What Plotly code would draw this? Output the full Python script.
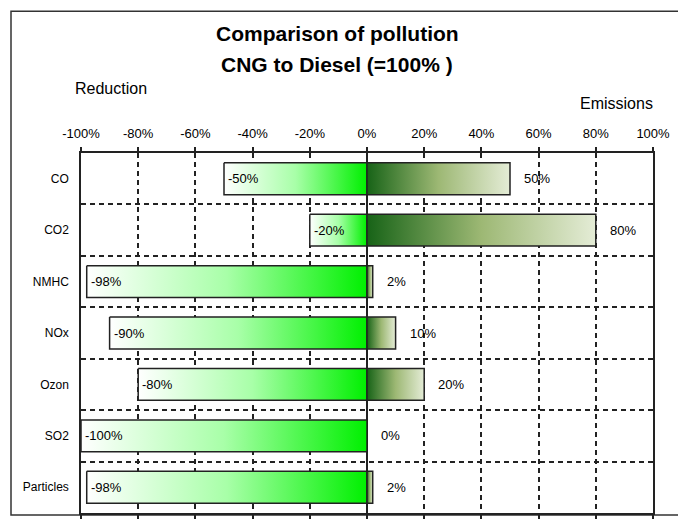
import plotly.graph_objects as go

categories = ["CO", "CO2", "NMHC", "NOx", "Ozon", "SO2", "Particles"]
reduction = [-50, -20, -98, -90, -80, -100, -98]
emissions = [50, 80, 2, 10, 20, 0, 2]
tick_values = [-100, -80, -60, -40, -20, 0, 20, 40, 60, 80, 100]
tick_labels = ["-100%", "-80%", "-60%", "-40%", "-20%", "0%", "20%", "40%", "60%", "80%", "100%"]

W, H = 678, 522
L, R, T, B = 81, 25, 153, 3
pw, ph = W - L - R, H - T - B

def px(x):
    return (x - L) / pw

def py(y):
    return (H - B - y) / ph

half = 0.31
neg_scale = [[0, "#ffffff"], [0.5, "#a8ffa8"], [1, "#00f000"]]
pos_scale = [[0, "#176317"], [0.5, "#9db874"], [1, "#e4ecd6"]]
FONT = "Liberation Sans, Arial, sans-serif"

fig = go.Figure()

for i, (cat, r, e) in enumerate(zip(categories, reduction, emissions)):
    fig.add_trace(go.Scatter(
        x=[r, 0, 0, r, r], y=[i - half, i - half, i + half, i + half, i - half],
        mode="lines", fill="toself",
        fillgradient=dict(type="horizontal", colorscale=neg_scale),
        line=dict(color="#222222", width=1.5), hoverinfo="skip", showlegend=False))
    if e > 0:
        fig.add_trace(go.Scatter(
            x=[0, e, e, 0, 0], y=[i - half, i - half, i + half, i + half, i - half],
            mode="lines", fill="toself",
            fillgradient=dict(type="horizontal", colorscale=pos_scale),
            line=dict(color="#222222", width=1.5), hoverinfo="skip", showlegend=False))
    fig.add_annotation(x=r, y=i, text=f"{r}%", xanchor="left", yanchor="middle", xshift=2,
                       showarrow=False, font=dict(size=13, color="black", family=FONT))
    fig.add_annotation(x=e, y=i, text=f"{e}%", xanchor="left", yanchor="middle", xshift=12,
                       showarrow=False, font=dict(size=13, color="black", family=FONT))

fig.update_xaxes(
    side="top", range=[-100, 100], tickvals=tick_values, ticktext=tick_labels,
    ticks="outside", ticklen=4, tickcolor="#222", tickwidth=1.5,
    ticklabelstandoff=4,
    tickfont=dict(size=13, color="black", family=FONT),
    showgrid=True, gridcolor="#222", gridwidth=1.5, griddash="5px,4px",
    zeroline=True, zerolinecolor="#222", zerolinewidth=1.5,
    showline=True, linecolor="#222", linewidth=1.5, mirror="ticks",
)
fig.update_yaxes(
    range=[6.5, -0.5], tickvals=list(range(len(categories))), ticktext=categories,
    ticks="", tickfont=dict(size=12, color="black", family=FONT), ticklabelstandoff=8,
    showgrid=False, zeroline=False,
    showline=True, linecolor="#222", linewidth=1.5, mirror=True,
    minor=dict(tickvals=[k + 0.5 for k in range(len(categories) - 1)], showgrid=True,
               gridcolor="#222", gridwidth=1.5, griddash="5px,4px", ticks=""),
)

fig.add_shape(type="rect", xref="paper", yref="paper",
              x0=px(11), x1=px(700), y0=py(521), y1=py(9),
              line=dict(color="#333", width=1.5), layer="below")

def label(x, y, text, size):
    fig.add_annotation(xref="paper", yref="paper", x=px(x), y=py(y), text=text,
                       xanchor="center", yanchor="middle", showarrow=False,
                       font=dict(size=size, color="black", family=FONT))

label(337, 31, "<b>Comparison of pollution</b>", 21)
label(337, 63, "<b>CNG to Diesel (=100% )</b>", 21)
label(111, 87, "Reduction", 16)
label(616, 103, "Emissions", 16)

fig.update_layout(
    width=W, height=H, margin=dict(l=L, r=R, t=T, b=B),
    paper_bgcolor="white", plot_bgcolor="white", showlegend=False,
)

fig.write_html("out.html", config={"displayModeBar": False},
               post_script="document.body.style.margin='0';")
